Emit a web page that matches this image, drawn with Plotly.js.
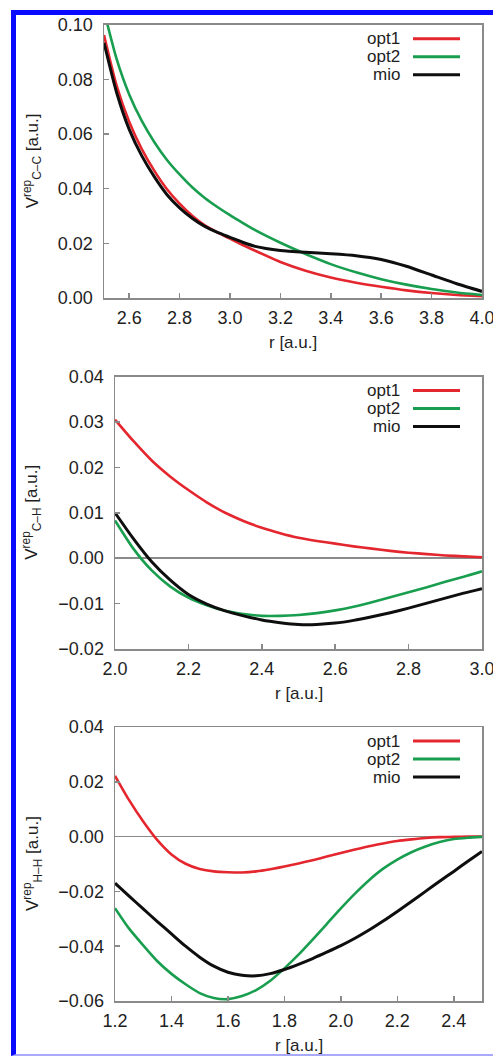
<!DOCTYPE html>
<html>
<head>
<meta charset="utf-8">
<script src="https://cdn.plot.ly/plotly-3.0.1.min.js"></script>
<style>
html,body{margin:0;padding:0;width:493px;height:1056px;overflow:hidden;background:#fff;}
#frame{position:absolute;left:11px;top:10px;width:700px;height:1039px;border-top:5px solid #0a0aff;border-left:5px solid #0a0aff;border-bottom:2px solid #a9a9fb;}
#plot{position:absolute;left:0;top:0;width:493px;height:1056px;}
</style>
</head>
<body>
<div id="frame"></div>
<div id="plot"></div>
<script>
// ---- data ----
const seriesNames = ['opt1', 'opt2', 'mio'];

const rCC = [2.50,2.55,2.60,2.65,2.70,2.75,2.80,2.85,2.90,2.95,3.00,3.05,3.10,3.20,3.30,3.40,3.50,3.60,3.70,3.80,3.90,4.00];
const opt1CC = [0.0962,0.0777,0.0645,0.0545,0.0465,0.0398,0.0345,0.0301,0.0266,0.0240,0.0217,0.0194,0.0173,0.0132,0.0100,0.0075,0.0056,0.0041,0.0028,0.0018,0.0011,0.0007];
const opt2CC = [0.1050,0.0875,0.0745,0.0648,0.0570,0.0505,0.0452,0.0405,0.0366,0.0333,0.0303,0.0275,0.0248,0.0202,0.0161,0.0124,0.0094,0.0069,0.0049,0.0033,0.0020,0.0011];
const mioCC  = [0.0934,0.0752,0.0617,0.0520,0.0443,0.0378,0.0330,0.0292,0.0262,0.0240,0.0222,0.0204,0.0189,0.0174,0.0167,0.0162,0.0155,0.0141,0.0116,0.0084,0.0052,0.0024];

const rCH = [2.00,2.05,2.10,2.15,2.20,2.25,2.30,2.35,2.40,2.45,2.50,2.55,2.60,2.65,2.70,2.75,2.80,2.85,2.90,2.95,3.00];
const opt1CH = [0.0305,0.0258,0.0215,0.0180,0.0150,0.0123,0.0100,0.0082,0.0067,0.0055,0.0045,0.0038,0.0032,0.0026,0.0021,0.0016,0.0012,0.0009,0.0006,0.0004,0.0002];
const opt2CH = [0.0083,0.0021,-0.0027,-0.0062,-0.0087,-0.0104,-0.0116,-0.0123,-0.0127,-0.0127,-0.0125,-0.0121,-0.0115,-0.0107,-0.0097,-0.0086,-0.0075,-0.0064,-0.0052,-0.0041,-0.0029];
const mioCH  = [0.0100,0.0043,-0.0008,-0.0048,-0.0080,-0.0101,-0.0116,-0.0127,-0.0136,-0.0142,-0.0146,-0.0146,-0.0143,-0.0137,-0.0129,-0.0120,-0.0110,-0.0099,-0.0088,-0.0077,-0.0067];

const rHH = [1.20,1.25,1.30,1.35,1.40,1.45,1.50,1.55,1.60,1.65,1.70,1.75,1.80,1.85,1.90,1.95,2.00,2.05,2.10,2.15,2.20,2.25,2.30,2.35,2.40,2.45,2.50];
const opt1HH = [0.0222,0.0133,0.0055,-0.0013,-0.0065,-0.0099,-0.0118,-0.0127,-0.0130,-0.0131,-0.0127,-0.0119,-0.0109,-0.0098,-0.0086,-0.0073,-0.0060,-0.0047,-0.0035,-0.0025,-0.0016,-0.0010,-0.0005,-0.0002,-0.0001,0.0000,0.0000];
const opt2HH = [-0.0261,-0.0336,-0.0397,-0.0455,-0.0501,-0.0539,-0.0571,-0.0589,-0.0593,-0.0582,-0.0560,-0.0526,-0.0481,-0.0431,-0.0376,-0.0319,-0.0262,-0.0208,-0.0159,-0.0117,-0.0084,-0.0057,-0.0036,-0.0020,-0.0009,-0.0004,-0.0001];
const mioHH  = [-0.0170,-0.0217,-0.0264,-0.0310,-0.0355,-0.0400,-0.0440,-0.0473,-0.0495,-0.0506,-0.0508,-0.0500,-0.0485,-0.0466,-0.0445,-0.0422,-0.0398,-0.0371,-0.0341,-0.0308,-0.0273,-0.0237,-0.0200,-0.0163,-0.0127,-0.0090,-0.0054];

const xTicksCC = [2.6,2.8,3.0,3.2,3.4,3.6,3.8,4.0];
const xTicksCH = [2.0,2.2,2.4,2.6,2.8,3.0];
const xTicksHH = [1.2,1.4,1.6,1.8,2.0,2.2,2.4];
const yTicksCC = [0.00,0.02,0.04,0.06,0.08,0.10];
const yTicksCH = [-0.02,-0.01,0.00,0.01,0.02,0.03,0.04];
const yTicksHH = [-0.06,-0.04,-0.02,0.00,0.02,0.04];

const yTitles = ['V<sup>rep</sup><sub>C\u2013C</sub> [a.u.]', 'V<sup>rep</sup><sub>C\u2013H</sub> [a.u.]', 'V<sup>rep</sup><sub>H\u2013H</sub> [a.u.]'];
const xTitle = 'r [a.u.]';

// ---- styling / layout ----
const W = 493, H = 1056;
const colors = ['rgb(228,38,46)', 'rgb(24,158,78)', 'rgb(14,14,14)'];
const widths = [2.6, 2.6, 3.0];
const FONT = 'Liberation Sans, Arial, Helvetica, sans-serif';
const TXT = '#1e1e1e';
const AX = '#8a8a8a';

const panels = [
  {r: rCC, ys: [opt1CC, opt2CC, mioCC], xr: [2.5, 4.0], yr: [0, 0.10], xt: xTicksCC, yt: yTicksCC, px: [104, 482], py: [24.7, 298], zero: false},
  {r: rCH, ys: [opt1CH, opt2CH, mioCH], xr: [2.0, 3.0], yr: [-0.02, 0.04], xt: xTicksCH, yt: yTicksCH, px: [115, 482], py: [376.5, 649], zero: true},
  {r: rHH, ys: [opt1HH, opt2HH, mioHH], xr: [1.2, 2.5], yr: [-0.06, 0.04], xt: xTicksHH, yt: yTicksHH, px: [115, 482], py: [727, 1001], zero: true}
];

const data = [];
const layout = {
  width: W, height: H,
  margin: {l: 0, r: 0, t: 0, b: 0, pad: 0},
  paper_bgcolor: 'rgba(0,0,0,0)',
  plot_bgcolor: '#ffffff',
  showlegend: false,
  font: {family: FONT, size: 17, color: TXT},
  annotations: [],
  shapes: []
};

panels.forEach((p, i) => {
  const sfx = i === 0 ? '' : String(i + 1);
  p.ys.forEach((y, k) => {
    data.push({
      x: p.r, y: y, type: 'scatter', mode: 'lines', name: seriesNames[k],
      xaxis: 'x' + sfx, yaxis: 'y' + sfx,
      line: {color: colors[k], width: widths[k], shape: 'spline', smoothing: 0.6},
      hoverinfo: 'skip'
    });
  });
  const common = {
    showline: true, linecolor: AX, linewidth: 1.5, mirror: true,
    ticks: 'inside', ticklen: 5, tickwidth: 1.5, tickcolor: AX,
    showgrid: false, fixedrange: true, ticklabeloverflow: 'allow',
    tickfont: {family: FONT, size: 18, color: TXT}
  };
  layout['xaxis' + sfx] = Object.assign({}, common, {
    domain: [p.px[0] / W, p.px[1] / W], range: p.xr,
    tickmode: 'array', tickvals: p.xt, ticktext: p.xt.map(v => v.toFixed(1)),
    anchor: 'y' + sfx, zeroline: false, ticklabelstandoff: 3
  });
  layout['yaxis' + sfx] = Object.assign({}, common, {
    domain: [1 - p.py[1] / H, 1 - p.py[0] / H], range: p.yr,
    tickmode: 'array', tickvals: p.yt,
    ticktext: p.yt.map(v => (v < 0 ? '\u2212' : '') + Math.abs(v).toFixed(2)),
    anchor: 'x' + sfx,
    zeroline: p.zero, zerolinecolor: AX, zerolinewidth: 1.5, ticklabelstandoff: 6
  });
  // axis titles
  layout.annotations.push({
    text: xTitle, xref: 'paper', yref: 'paper', showarrow: false,
    x: (p.px[0] + p.px[1]) / 2 / W, y: 1 - (p.py[1] + 44) / H,
    xanchor: 'center', yanchor: 'middle', font: {family: FONT, size: 17, color: TXT}
  });
  layout.annotations.push({
    text: yTitles[i], xref: 'paper', yref: 'paper', showarrow: false, textangle: -90,
    x: 32 / W, y: 1 - (p.py[0] + p.py[1]) / 2 / H,
    xanchor: 'center', yanchor: 'middle', font: {family: FONT, size: 17, color: TXT}
  });
  // legend (text left of the line sample)
  const rows = [14, 32, 50];
  seriesNames.forEach((nm, k) => {
    const yy = 1 - (p.py[0] + rows[k]) / H;
    layout.annotations.push({
      text: nm, xref: 'paper', yref: 'paper', showarrow: false,
      x: 402 / W, y: yy, xanchor: 'right', yanchor: 'middle',
      font: {family: FONT, size: 17, color: TXT}
    });
    layout.shapes.push({
      type: 'line', xref: 'paper', yref: 'paper',
      x0: 413 / W, x1: 460 / W, y0: yy, y1: yy,
      line: {color: colors[k], width: 3}
    });
  });
});

Plotly.newPlot('plot', data, layout, {staticPlot: true, displayModeBar: false});
</script>
</body>
</html>
